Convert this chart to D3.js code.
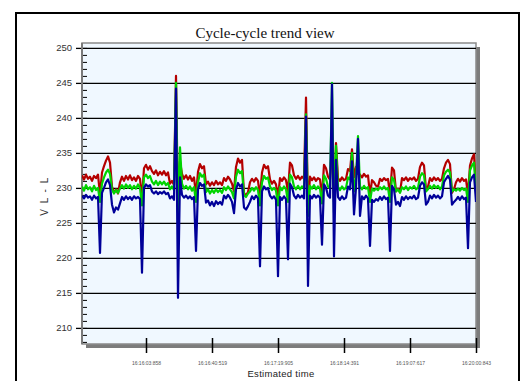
<!DOCTYPE html>
<html>
<head>
<meta charset="utf-8">
<script src="https://cdn.jsdelivr.net/npm/d3@7"></script>
<style>
  body { margin: 0; background: #fff; }
  svg { display: block; }
</style>
</head>
<body>
<svg id="chart" width="525" height="381"></svg>
<script>
// cycle-cycle RMS values, one sample per cycle index
const redVals = [
  231.8, 231.2, 231.9, 231.3, 231.6, 231.0, 231.7, 231.4, 231.9, 229.0,
  232.2, 233.1, 233.9, 234.5, 233.6, 230.2, 229.3, 229.8, 229.2, 230.8,
  231.6, 231.0, 231.7, 231.2, 231.8, 231.1, 231.5, 231.0, 231.7, 231.3,
  228.5,
  232.8, 233.3, 232.6, 233.1, 232.4, 232.0, 232.5, 231.8, 232.3,
  231.9, 232.4, 231.8, 232.2, 230.6, 231.0, 230.4,
  246.0, 226.5, 233.8,
  232.0, 231.3, 231.8, 231.2, 231.7, 231.0, 231.5,
  229.0,
  232.3, 233.4, 232.8, 233.1,
  230.5, 230.9, 230.3, 230.8, 230.4, 231.0, 230.5, 230.8, 230.4,
  231.4, 231.0, 231.6, 231.2, 230.6,
  229.5,
  233.0, 234.2, 233.6, 234.0,
  229.3, 228.9, 229.4, 230.8,
  231.3, 230.9, 231.4, 231.0,
  228.8,
  232.2, 233.3, 232.8, 233.1, 231.2,
  230.6, 231.0, 230.5,
  228.6,
  231.4, 231.0, 231.5, 231.1,
  229.5,
  233.6, 233.2,
  231.8, 231.3, 231.7, 231.2, 231.6, 231.3,
  242.9, 227.0,
  231.6, 231.1, 231.5, 231.0, 231.4, 231.2,
  228.8,
  233.3, 232.8, 231.6, 231.2,
  236.4, 228.0, 236.4,
  231.4, 231.0, 231.5, 231.1, 231.3,
  232.7, 232.4,
  235.5, 231.5, 233.0, 232.0,
  231.9, 231.5, 232.0, 231.6, 231.8,
  229.0,
  231.1, 230.8, 230.3, 230.2,
  231.3, 231.0, 231.4, 231.1, 231.3,
  229.0,
  232.9, 232.5,
  229.5, 229.9, 229.4,
  231.4, 231.1, 231.5, 231.0, 231.4, 231.2, 231.5, 231.0, 231.3,
  233.0, 233.6, 233.2,
  229.8, 230.2,
  231.4, 231.0, 231.5, 231.1, 231.4, 231.0, 231.3,
  232.8, 233.6, 234.0, 233.4,
  229.3, 229.8, 230.8,
  231.3, 230.9, 231.4, 231.0, 231.2,
  229.0,
  233.2, 234.2, 234.8,
  229.8
];
const greenVals = [
  230.2, 229.6, 230.4, 229.8, 230.1, 229.5, 230.3, 229.7, 230.0, 228.0,
  230.6, 231.5, 232.2, 232.6, 232.0, 229.8, 229.2, 229.7, 229.3, 229.9,
  230.4, 229.9, 230.5, 230.0, 230.4, 229.8, 230.3, 229.9, 230.5, 230.0,
  227.5,
  231.5, 231.9, 231.4, 231.7, 230.9, 230.5, 231.0, 230.4, 230.9,
  230.5, 230.9, 230.4, 230.7, 229.8, 230.2, 229.7,
  245.0, 225.0, 235.8,
  230.6, 229.9, 230.3, 229.8, 230.2, 229.6, 230.1,
  228.0,
  230.8, 232.1, 231.6, 231.9,
  229.4, 229.8, 229.2, 229.7, 229.3, 229.8, 229.4, 229.7, 229.3,
  230.1, 229.7, 230.2, 229.8, 229.4,
  228.5,
  231.6, 232.6, 232.1, 232.4,
  229.0, 228.7, 229.2, 229.5,
  230.0, 229.6, 230.1, 229.7,
  227.5,
  230.8, 231.7, 231.3, 231.5, 230.2,
  229.7, 230.0, 229.6,
  227.5,
  230.1, 229.7, 230.2, 229.8,
  228.0,
  231.9, 231.5,
  230.2, 229.8, 230.3, 229.8, 230.2, 229.9,
  240.5, 226.0,
  230.3, 229.9, 230.4, 229.8, 230.2, 229.9,
  227.8,
  231.8, 231.3, 230.2, 229.9,
  245.0, 226.5, 236.0,
  230.1, 229.7, 230.2, 229.8, 230.0,
  231.5, 231.2,
  235.0, 229.5, 231.5, 237.4,
  230.2, 229.8, 230.3, 229.9, 230.1,
  228.0,
  229.9, 229.6, 229.9, 229.7,
  230.1, 229.8, 230.2, 229.8, 230.0,
  228.0,
  231.5, 231.1,
  229.5, 229.8, 229.3,
  230.1, 229.8, 230.2, 229.7, 230.1, 229.9, 230.3, 229.8, 230.0,
  231.6, 232.1, 231.8,
  229.5, 229.8,
  230.3, 229.9, 230.4, 230.0, 230.3, 229.8, 230.2,
  231.8, 232.3, 232.6, 232.2,
  229.5, 229.8, 229.6,
  229.9, 229.6, 230.0, 229.7, 229.9,
  228.0,
  232.5, 233.2, 233.6,
  229.5
];
const blueVals = [
  228.9, 228.5, 229.0, 228.6, 228.8, 228.3, 228.9, 228.5, 228.7, 220.7,
  229.3, 230.0, 230.8, 231.2, 230.4, 227.6, 226.5, 227.2, 226.9, 227.8,
  228.7, 228.3, 228.8, 228.4, 228.7, 228.3, 228.8, 228.5, 228.7, 228.4,
  217.9,
  230.0, 230.5, 230.2, 230.4, 229.5, 229.2, 229.5, 229.1, 229.4,
  229.2, 229.5, 229.1, 229.3, 228.5, 228.8, 228.3,
  244.2, 214.3, 231.5,
  229.0, 228.6, 228.9, 228.5, 228.8, 228.4, 228.7,
  221.0,
  229.8, 230.7, 230.3, 230.5,
  227.9, 228.2, 227.5, 228.0, 227.4, 228.1, 227.7, 228.0, 227.6,
  228.9, 228.5, 229.0, 228.6, 228.0,
  226.4,
  229.8, 230.7, 230.2, 230.5,
  227.2, 226.9, 227.4, 228.0,
  228.8, 228.4, 228.9, 228.5,
  218.8,
  229.5, 230.2, 229.8, 230.0, 228.9,
  228.5, 228.8, 228.3,
  217.4,
  228.7, 228.3, 228.8, 228.4,
  219.8,
  230.6, 230.1,
  228.9, 228.5, 229.0, 228.6, 228.9, 228.5,
  240.2, 216.0,
  228.9, 228.5, 229.0, 228.6, 228.9, 228.6,
  221.9,
  230.5, 230.0, 228.9, 228.6,
  244.8, 220.2, 234.0,
  228.7, 228.3, 228.8, 228.4, 228.6,
  230.2, 229.8,
  233.8, 226.2, 230.0, 237.0,
  226.0, 228.8, 228.4, 228.9, 228.5,
  221.7,
  228.3, 228.0, 228.4, 228.2,
  228.7, 228.3, 228.8, 228.4, 228.6,
  221.0,
  230.3, 229.8,
  227.6, 228.0, 227.4,
  228.7, 228.3, 228.8, 228.4, 228.7, 228.5, 228.9, 228.4, 228.6,
  230.3, 230.8, 230.5,
  227.6, 228.0,
  228.9, 228.5, 229.0, 228.6, 228.9, 228.5, 228.8,
  230.8, 231.3, 231.7, 231.2,
  227.6, 228.0, 228.3,
  228.7, 228.3, 228.8, 228.4, 228.6,
  221.4,
  230.8, 231.5, 231.9,
  228.0
];

const xTickIdx = [32, 65, 98, 131, 164, 197];
const xTickLabels = ["16:16:03:858", "16:16:40:519", "16:17:19:905", "16:18:14:391", "16:19:07:617", "16:20:00:843"];
const yTicks = [210, 215, 220, 225, 230, 235, 240, 245, 250];
const yMinor = d3.range(208, 251, 1);

const series = [
  { name: "L1-L2", color: "#b40000", values: redVals },
  { name: "L2-L3", color: "#00d400", values: greenVals },
  { name: "L3-L1", color: "#000099", values: blueVals }
];

const svg = d3.select("#chart");
const L = 82, T = 43, W = 394, H = 301;

const x = d3.scaleLinear().domain([0, redVals.length - 1]).range([L, L + W]);
const y = d3.scaleLinear().domain([207.7, 250.7]).range([T + H, T]);

// outer frame
svg.append("rect").attr("x", 16).attr("y", 13).attr("width", 503).attr("height", 400)
  .attr("fill", "none").attr("stroke", "#000").attr("stroke-width", 2);

svg.append("text").attr("x", 265).attr("y", 37.5).attr("text-anchor", "middle")
  .attr("font-family", "'Liberation Serif', 'Times New Roman', serif").attr("font-size", 15)
  .attr("fill", "#111").text("Cycle-cycle trend view");

// shadow + plot area
svg.append("rect").attr("x", L + 4).attr("y", T + 4).attr("width", W).attr("height", H).attr("fill", "#7c7c7c");
svg.append("rect").attr("x", L).attr("y", T).attr("width", W).attr("height", H)
  .attr("fill", "#f0f8ff").attr("stroke", "#8a8a8a").attr("stroke-width", 1.5);

svg.append("clipPath").attr("id", "clip").append("rect")
  .attr("x", L).attr("y", T).attr("width", W).attr("height", H);

// grid lines
svg.append("g").attr("transform", `translate(${L},0)`)
  .call(d3.axisRight(y).tickValues(yTicks).tickSize(W).tickFormat(""))
  .call(g => g.select(".domain").remove())
  .call(g => g.selectAll("line").attr("stroke", "#000").attr("stroke-width", 1.3));

// minor ticks
svg.append("g").attr("transform", `translate(${L},0)`)
  .call(d3.axisRight(y).tickValues(yMinor.filter(v => y(v) > T && y(v) < T + H)).tickSize(5).tickFormat(""))
  .call(g => g.select(".domain").remove())
  .call(g => g.selectAll("line").attr("stroke", "#000").attr("stroke-width", 1));

// y axis labels
svg.append("g").attr("transform", `translate(${L},0)`)
  .call(d3.axisLeft(y).tickValues(yTicks).tickSize(6).tickPadding(4))
  .call(g => g.select(".domain").remove())
  .call(g => g.selectAll("line").attr("stroke", "#000").attr("stroke-width", 1.3))
  .call(g => g.selectAll("text").attr("font-family", "'Liberation Sans', Arial, sans-serif")
    .attr("font-size", 9.5).attr("fill", "#333"));

svg.append("line").attr("x1", L).attr("x2", L).attr("y1", T).attr("y2", T + H)
  .attr("stroke", "#7a7a7a").attr("stroke-width", 2);

svg.append("text").attr("transform", "translate(48,196) rotate(-90)").attr("text-anchor", "middle")
  .attr("font-family", "'Liberation Sans', Arial, sans-serif").attr("font-size", 10)
  .attr("letter-spacing", 1.5).attr("fill", "#333").text("V  L - L");

// lines
const line = d3.line().x((d, i) => x(i)).y(d => y(d));
svg.append("g").attr("clip-path", "url(#clip)")
  .selectAll("path").data(series).join("path")
  .attr("d", d => line(d.values))
  .attr("fill", "none").attr("stroke", d => d.color)
  .attr("stroke-width", 2.2).attr("stroke-linejoin", "round");

// x axis
svg.append("g").attr("transform", `translate(0,${T + H - 6})`)
  .call(d3.axisBottom(x).tickValues(xTickIdx).tickSize(15).tickPadding(8)
    .tickFormat((d, i) => xTickLabels[i]))
  .call(g => g.select(".domain").remove())
  .call(g => g.selectAll("line").attr("stroke", "#000").attr("stroke-width", 1.5))
  .call(g => g.selectAll("text").attr("font-family", "'Liberation Sans', Arial, sans-serif")
    .attr("font-size", 5).attr("fill", "#555"));

svg.append("text").attr("x", 281).attr("y", 377).attr("text-anchor", "middle")
  .attr("font-family", "'Liberation Sans', Arial, sans-serif").attr("font-size", 9.5)
  .attr("letter-spacing", 0.3).attr("fill", "#222").text("Estimated time");
</script>
</body>
</html>
